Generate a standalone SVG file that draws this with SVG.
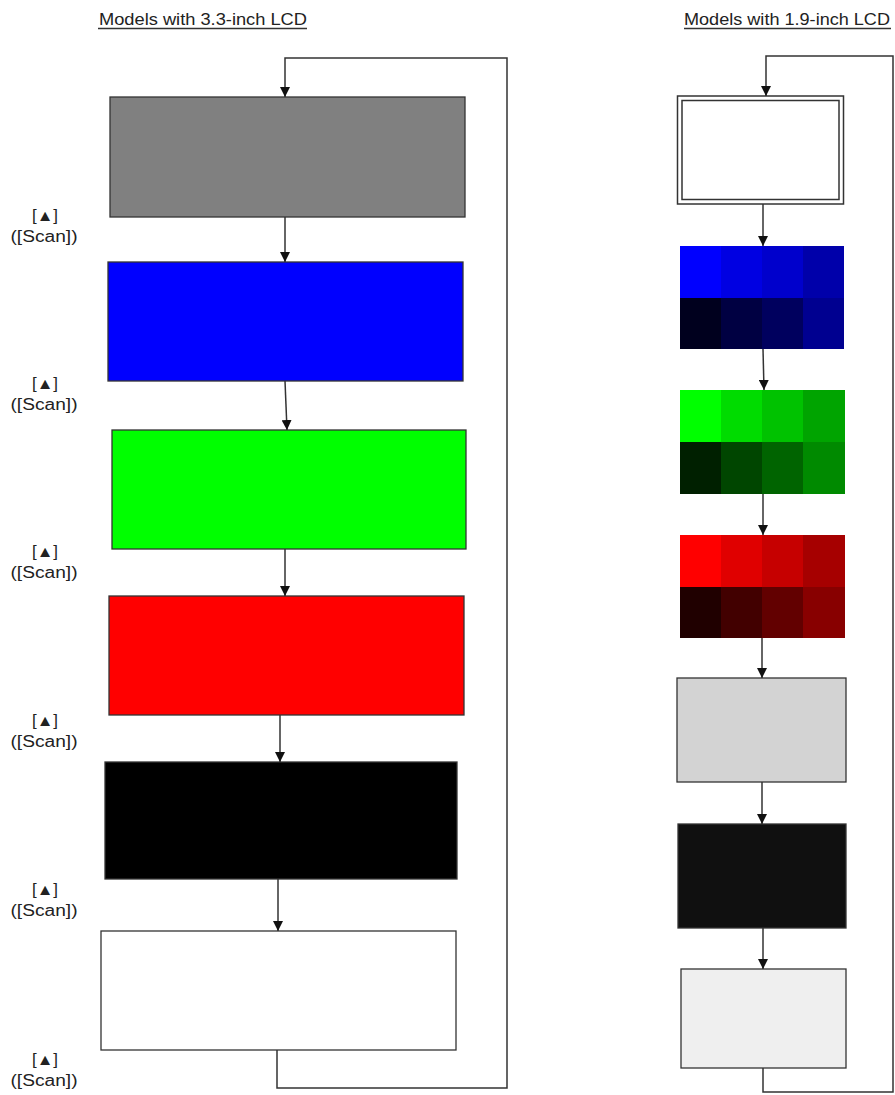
<svg xmlns="http://www.w3.org/2000/svg" width="895" height="1095" viewBox="0 0 895 1095">
<style>
.t{font-family:"Liberation Sans",Arial,sans-serif;font-size:17px;fill:#222}
.l{font-family:"Liberation Sans",Arial,sans-serif;font-size:16px;fill:#222;text-anchor:middle}
.b{stroke:#333;stroke-width:1.3}
.c{fill:none;stroke:#333;stroke-width:1.5}
</style>
<defs>
<marker id="a" viewBox="0 0 10 10" refX="10" refY="5" markerWidth="10" markerHeight="10" markerUnits="userSpaceOnUse" orient="auto"><path d="M0,0 L10,5 L0,10 z" fill="#111"/></marker>
</defs>
<rect width="895" height="1095" fill="#fff"/>
<text class="t" x="99" y="25" textLength="208" lengthAdjust="spacingAndGlyphs">Models with 3.3-inch LCD</text>
<line x1="98" y1="28.5" x2="307" y2="28.5" stroke="#333" stroke-width="1.5"/>
<text class="t" x="684" y="25" textLength="206" lengthAdjust="spacingAndGlyphs">Models with 1.9-inch LCD</text>
<line x1="684" y1="28.5" x2="891" y2="28.5" stroke="#333" stroke-width="1.5"/>

<g id="left-gray"><rect class="b" x="110" y="97" width="355" height="120" fill="#808080"/></g>
<g id="left-blue"><rect class="b" x="108" y="262" width="355" height="119" fill="#0000ff"/></g>
<g id="left-green"><rect class="b" x="112" y="430" width="354" height="119" fill="#00ff00"/></g>
<g id="left-red"><rect class="b" x="109" y="596" width="355" height="119" fill="#ff0000"/></g>
<g id="left-black"><rect class="b" x="105" y="762" width="352" height="117" fill="#000"/></g>
<g id="left-white"><rect class="b" x="101" y="931" width="355" height="119" fill="#fff"/></g>

<g id="labels">
<text class="l" x="45" y="221" textLength="26" lengthAdjust="spacingAndGlyphs">[▲]</text><text class="l" x="44" y="242" textLength="67" lengthAdjust="spacingAndGlyphs">([Scan])</text>
<text class="l" x="45" y="389" textLength="26" lengthAdjust="spacingAndGlyphs">[▲]</text><text class="l" x="44" y="410" textLength="67" lengthAdjust="spacingAndGlyphs">([Scan])</text>
<text class="l" x="45" y="557" textLength="26" lengthAdjust="spacingAndGlyphs">[▲]</text><text class="l" x="44" y="578" textLength="67" lengthAdjust="spacingAndGlyphs">([Scan])</text>
<text class="l" x="45" y="726" textLength="26" lengthAdjust="spacingAndGlyphs">[▲]</text><text class="l" x="44" y="747" textLength="67" lengthAdjust="spacingAndGlyphs">([Scan])</text>
<text class="l" x="45" y="895" textLength="26" lengthAdjust="spacingAndGlyphs">[▲]</text><text class="l" x="44" y="916" textLength="67" lengthAdjust="spacingAndGlyphs">([Scan])</text>
<text class="l" x="45" y="1065" textLength="26" lengthAdjust="spacingAndGlyphs">[▲]</text><text class="l" x="44" y="1086" textLength="67" lengthAdjust="spacingAndGlyphs">([Scan])</text>
</g>

<g id="right-white-double">
<rect x="677.5" y="96" width="166" height="108" fill="#fff" stroke="#333" stroke-width="1.5"/>
<rect x="682" y="100.5" width="157" height="99" fill="none" stroke="#333" stroke-width="1.5"/>
</g>
<g id="right-blue">
<rect x="680" y="246" width="42" height="52" fill="#0000ff"/><rect x="721" y="246" width="42" height="52" fill="#0000e2"/><rect x="762" y="246" width="42" height="52" fill="#0000cc"/><rect x="803" y="246" width="41" height="52" fill="#0000aa"/>
<rect x="680" y="298" width="42" height="51" fill="#00001e"/><rect x="721" y="298" width="42" height="51" fill="#000042"/><rect x="762" y="298" width="42" height="51" fill="#00005e"/><rect x="803" y="298" width="41" height="51" fill="#000090"/>
</g>
<g id="right-green">
<rect x="680" y="390" width="42" height="52" fill="#00ff00"/><rect x="721" y="390" width="42" height="52" fill="#00dc00"/><rect x="762" y="390" width="42" height="52" fill="#00c200"/><rect x="803" y="390" width="42" height="52" fill="#00a400"/>
<rect x="680" y="442" width="42" height="52" fill="#002000"/><rect x="721" y="442" width="42" height="52" fill="#004600"/><rect x="762" y="442" width="42" height="52" fill="#006400"/><rect x="803" y="442" width="42" height="52" fill="#008a00"/>
</g>
<g id="right-red">
<rect x="680" y="535" width="42" height="52" fill="#ff0000"/><rect x="721" y="535" width="42" height="52" fill="#e00000"/><rect x="762" y="535" width="42" height="52" fill="#c60000"/><rect x="803" y="535" width="42" height="52" fill="#a60000"/>
<rect x="680" y="587" width="42" height="51" fill="#200000"/><rect x="721" y="587" width="42" height="51" fill="#420000"/><rect x="762" y="587" width="42" height="51" fill="#620000"/><rect x="803" y="587" width="42" height="51" fill="#880000"/>
</g>
<g id="right-gray"><rect class="b" x="677" y="678" width="169" height="104" fill="#d3d3d3"/></g>
<g id="right-black"><rect class="b" x="678" y="824" width="168" height="104" fill="#101010"/></g>
<g id="right-light"><rect class="b" x="681" y="969" width="165" height="99" fill="#efefef"/></g>

<g id="connectors">
<line class="c" x1="285" y1="217" x2="285" y2="262" marker-end="url(#a)"/>
<line class="c" x1="285" y1="381" x2="287" y2="430" marker-end="url(#a)"/>
<line class="c" x1="285" y1="549" x2="285" y2="596" marker-end="url(#a)"/>
<line class="c" x1="280" y1="715" x2="280" y2="762" marker-end="url(#a)"/>
<line class="c" x1="278" y1="879" x2="278" y2="931" marker-end="url(#a)"/>
<polyline class="c" points="277,1050 277,1088 507,1088 507,58 285,58 285,97" marker-end="url(#a)"/>

<line class="c" x1="763" y1="204" x2="763" y2="246" marker-end="url(#a)"/>
<line class="c" x1="763" y1="349" x2="764" y2="390" marker-end="url(#a)"/>
<line class="c" x1="763" y1="494" x2="763" y2="535" marker-end="url(#a)"/>
<line class="c" x1="762" y1="638" x2="762" y2="678" marker-end="url(#a)"/>
<line class="c" x1="762" y1="782" x2="762" y2="824" marker-end="url(#a)"/>
<line class="c" x1="763" y1="928" x2="763" y2="969" marker-end="url(#a)"/>
<polyline class="c" points="763,1068 763,1092 893,1092 893,56 766,56 766,96" marker-end="url(#a)"/>
</g>
</svg>
